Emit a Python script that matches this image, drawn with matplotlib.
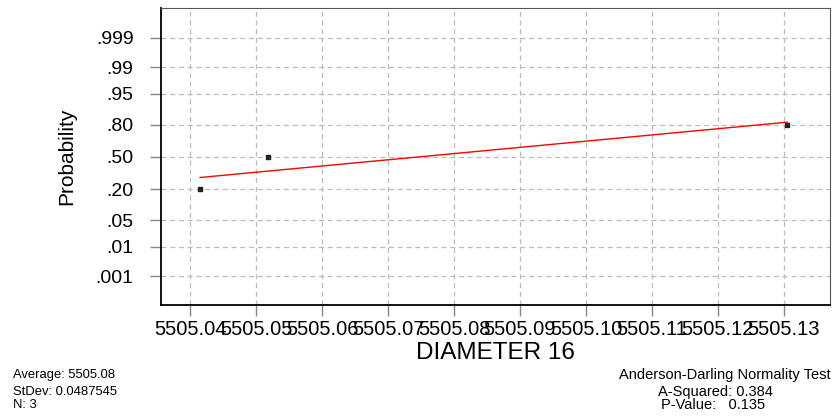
import numpy as np
import matplotlib.pyplot as plt
from statistics import NormalDist

# data
diameters = [5505.0415, 5505.0518, 5505.1305]
probs = [0.206, 0.50, 0.794]
fit_mean = 5505.0745
fit_sigma = 0.062
prob_ticks = [0.001, 0.01, 0.05, 0.20, 0.50, 0.80, 0.95, 0.99, 0.999]
prob_labels = ['.001', '.01', '.05', '.20', '.50', '.80', '.95', '.99', '.999']
x_ticks = [5505.04, 5505.05, 5505.06, 5505.07, 5505.08, 5505.09,
           5505.10, 5505.11, 5505.12, 5505.13]
x_tick_labels = ['5505.04', '5505.05', '5505.06', '5505.07', '5505.08',
                 '5505.09', '5505.10', '5505.11', '5505.12', '5505.13']

plt.rcParams['font.family'] = ['Liberation Sans', 'DejaVu Sans']

nd = NormalDist()
def probit(p):
    return [nd.inv_cdf(v) for v in p]

fig = plt.figure(figsize=(8.35, 4.16), dpi=100)
ax = fig.add_axes([0.193, 0.267, 0.801, 0.714])

# fitted line between first and last observation
lx = np.array([min(diameters), max(diameters)])
ly = (lx - fit_mean) / fit_sigma
ax.plot(lx, ly, color='red', lw=1.0, zorder=3)
ax.scatter(diameters, probit(probs), marker='s', s=10, color='#222222', zorder=4)

ax.set_yticks(probit(prob_ticks))
ax.set_yticklabels(prob_labels)
ax.set_xticks(x_ticks)
ax.set_xticklabels(x_tick_labels)
ax.set_ylim(-3.84, 3.87)
ax.set_xlim(5505.0356, 5505.137)

ax.grid(True, color='#bbbbbb', linestyle=(0, (4, 3)), lw=0.9)
ax.tick_params(axis='both', length=8, color='#888888', width=1)
ax.tick_params(axis='y', labelsize=14, pad=12)
ax.tick_params(axis='x', labelsize=14.5, pad=3)
for s in ['top', 'right']:
    ax.spines[s].set_color('#555555')
for s in ['left', 'bottom']:
    ax.spines[s].set_color('black')
    ax.spines[s].set_linewidth(1.3)

ax.set_xlabel('DIAMETER 16', fontsize=17.5, labelpad=2)
ax.set_ylabel('Probability', fontsize=15, labelpad=14)

fig.text(0.0156, 0.0986, 'Average: 5505.08', fontsize=9.4, va='center')
fig.text(0.0156, 0.0577, 'StDev: 0.0487545', fontsize=9.4, va='center')
fig.text(0.0156, 0.026, 'N: 3', fontsize=9.4, va='center')
fig.text(0.995, 0.0986, 'Anderson-Darling Normality Test', fontsize=10.5, va='center', ha='right')
fig.text(0.788, 0.0577, 'A-Squared: 0.384', fontsize=10.5, va='center')
fig.text(0.792, 0.026, 'P-Value:   0.135', fontsize=10.5, va='center')

fig.savefig('out.png', dpi=100)
